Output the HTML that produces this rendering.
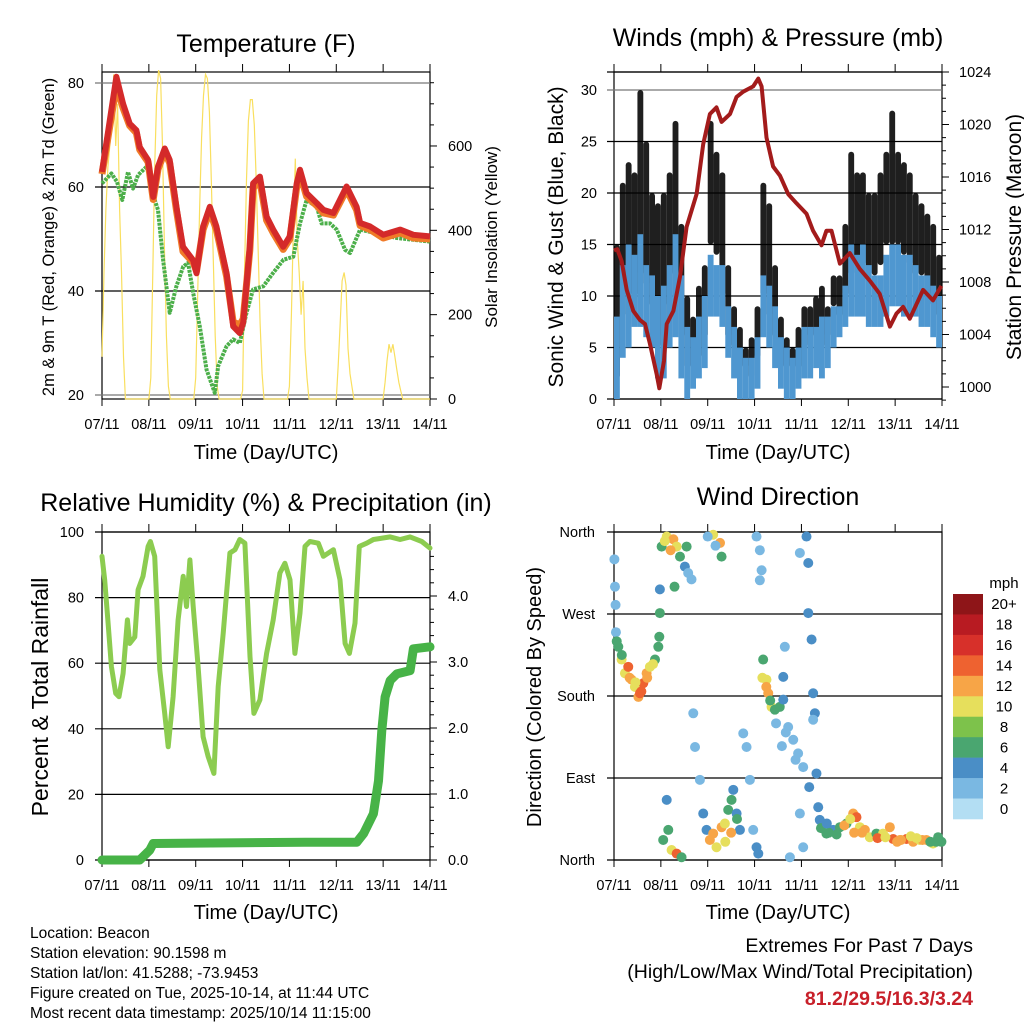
<!DOCTYPE html>
<html><head><meta charset="utf-8"><style>
html,body{margin:0;padding:0;background:#fff}
svg{display:block;font-family:"Liberation Sans",Arial,sans-serif}
</style></head><body>
<svg id="s" width="1024" height="1024" viewBox="0 0 1024 1024" xmlns="http://www.w3.org/2000/svg">
<rect width="1024" height="1024" fill="#fff"/>
<text x="266" y="52" font-size="25" text-anchor="middle">Temperature (F)</text>
<text x="778" y="46" font-size="25" text-anchor="middle">Winds (mph) &amp; Pressure (mb)</text>
<text x="266" y="511" font-size="25" text-anchor="middle">Relative Humidity (%) &amp; Precipitation (in)</text>
<text x="778" y="505" font-size="25" text-anchor="middle">Wind Direction</text>
<text x="266" y="459" font-size="20" text-anchor="middle">Time (Day/UTC)</text>
<text x="778" y="459" font-size="20" text-anchor="middle">Time (Day/UTC)</text>
<text x="266" y="919" font-size="20" text-anchor="middle">Time (Day/UTC)</text>
<text x="778" y="919" font-size="20" text-anchor="middle">Time (Day/UTC)</text>
<text transform="translate(54,237) rotate(-90)" font-size="16.5" text-anchor="middle">2m &amp; 9m T (Red, Orange) &amp; 2m Td (Green)</text>
<text transform="translate(497,237) rotate(-90)" font-size="17" text-anchor="middle">Solar Insolation (Yellow)</text>
<text transform="translate(563,237) rotate(-90)" font-size="21" text-anchor="middle">Sonic Wind &amp; Gust (Blue, Black)</text>
<text transform="translate(1021,237) rotate(-90)" font-size="21" text-anchor="middle">Station Pressure (Maroon)</text>
<text transform="translate(48,697) rotate(-90)" font-size="23" text-anchor="middle">Percent &amp; Total Rainfall</text>
<text transform="translate(541,697) rotate(-90)" font-size="20" text-anchor="middle">Direction (Colored By Speed)</text>
<g font-size="15.5">
<text x="30" y="938">Location: Beacon</text>
<text x="30" y="958">Station elevation: 90.1598 m</text>
<text x="30" y="978">Station lat/lon: 41.5288; -73.9453</text>
<text x="30" y="998">Figure created on Tue, 2025-10-14, at 11:44 UTC</text>
<text x="30" y="1018">Most recent data timestamp: 2025/10/14 11:15:00</text>
</g>
<g font-size="19.5" text-anchor="end">
<text x="973" y="952">Extremes For Past 7 Days</text>
<text x="973" y="978">(High/Low/Max Wind/Total Precipitation)</text>
<text x="973" y="1005" fill="#c8202a" font-weight="bold">81.2/29.5/16.3/3.24</text>
</g>
<text x="1004" y="588" font-size="15" text-anchor="middle">mph</text>
</svg>
<script>
// ---------- data ----------
const dayLabels=["07/11","08/11","09/11","10/11","11/11","12/11","13/11","14/11"];
const tempHours=[0,7.4,10.8,14.2,17.6,19.3,23.6,26.2,28.7,32.1,34.7,38.1,41.5,46.7,48.4,51.8,55.2,58.6,63.8,67.2,70.6,72.3,75.7,77.4,80.9,84.3,87.7,92.8,96.2,99.7,101.4,104.8,110,113.4,118.5,125.3,130.4,132.2,137.3,144.1,152.7,159.5,168];
const temp2m=[62.9,81.2,76.0,72.2,70.9,67.7,65.2,58.1,63.9,67.4,65.2,56.2,48.5,45.9,43.4,52.4,56.2,52.4,43.4,33.2,31.9,33.9,48.5,60.7,62.0,54.3,51.8,48.5,50.5,60.7,63.3,58.8,56.9,55.6,55.0,60.1,56.2,53.1,52.4,50.8,51.8,50.8,50.5];
const temp9m=[62.5,79.5,75.2,71.8,70.4,67.2,64.8,57.6,63.4,66.8,64.6,55.6,47.6,45.5,43.8,51.8,55.4,51.8,42.8,34.0,33.5,34.6,47.8,59.8,61.2,53.6,51.2,48.0,50.0,60.0,62.5,58.2,56.4,55.0,54.6,59.5,55.6,52.6,51.8,50.2,51.2,50.2,50.0];
const dewHours=[0,4.8,7.7,10.4,13.3,15.9,18.5,23.6,26.5,28.7,31.3,34.7,38.1,41.6,44.1,46.7,50.1,53.5,57.8,59.5,63.8,67.2,70.6,74.0,77.4,82.6,87.7,92.9,98.0,101.4,104.8,110.0,112.5,116.8,120.2,124.5,127.1,132.2,140.7,151.0,168];
const dewPoint=[60.7,62.6,61.0,57.5,62.9,59.7,62.3,64.2,58.1,55.6,46.0,35.8,40.9,44.7,45.4,39.6,33.2,24.9,20.4,25.6,29.4,30.7,30.0,35.8,40.3,40.9,43.5,46.0,46.6,53.0,57.5,56.2,53.0,53.0,51.8,47.9,47.3,51.8,51.1,50.2,49.5];
const solar=[100,300,450,550,600,650,770,600,700,450,300,100,0,0,0,0,0,0,0,0,0,0,0,0,
0,50,300,550,720,780,760,600,350,150,30,0,0,0,0,0,0,0,0,0,0,0,0,0,
50,250,450,620,720,770,760,680,520,330,150,30,0,0,0,0,0,0,0,0,0,0,0,0,
20,300,520,660,710,710,650,520,350,180,60,0,0,0,0,0,0,0,0,0,0,0,0,0,
30,200,400,570,380,300,200,280,120,50,0,0,0,0,0,0,0,0,0,0,0,0,0,0,
0,80,180,280,300,270,120,60,30,0,0,0,0,0,0,0,0,0,0,0,0,0,0,0,
0,40,90,130,110,130,100,70,40,20,0,0,0,0,0,0,0,0,0,0,0,0,0,0,0];
const presHours=[0,1.7,3.9,6.5,9.9,13.3,15.9,18.4,21.8,23.2,25.6,27,30.4,33.8,37.2,42.3,45.7,49.1,52.5,55.1,59.4,62.8,66.2,71.3,73.9,75.6,78.1,81.5,85,89.2,93.5,98.6,102,106.3,108.8,111.4,115.7,120.8,125.9,131,136.1,141.3,144.7,148.1,151.5,158.3,163.4,167.7];
const pressure=[1010.4,1010.5,1009.6,1007.4,1005.8,1005.1,1004.8,1003.3,1001.0,999.9,1002.0,1004.8,1005.8,1008.4,1012.2,1014.7,1018.5,1020.8,1021.3,1020.2,1020.8,1022.1,1022.5,1022.9,1023.5,1022.9,1019.0,1016.8,1016.1,1014.7,1014.0,1013.2,1011.9,1010.8,1011.9,1011.9,1009.4,1010.2,1009.0,1008.1,1007.1,1004.6,1005.6,1006.1,1005.2,1007.4,1006.6,1007.7];
const gustLo=[2,8,10,10,12,11,9,5,6,9,12,6,3,3,4,6,15,14,10,6,5,3,3,2,4,10,8,6,3,3,3,3,5,6,6,5,6,9,8,10,12,13,13,12,12,13,15,15,15,14,13,12,12,10,9,8];
const gustHi=[15,21,23,22,30,25,20,19,20,22,27,17,10,8,11,13,27,24,22,13,9,7,5,6,9,21,19,13,8,6,5,7,9,9,10,11,9,12,12,17,24,22,22,20,20,22,24,28,24,23,22,20,19,18,17,14];
const windLo=[0,4,5,7,7,6,5,2,2,5,6,2,0,1,2,3,8,8,7,4,2,0,0,0,1,6,5,3,1,0,0,1,2,2,3,2,3,5,6,7,8,8,8,7,7,7,8,9,9,8,8,8,7,7,6,5];
const windHi=[8,13,15,14,16,13,12,10,11,13,16,12,7,6,8,10,14,13,13,9,7,5,4,4,6,12,11,9,6,5,4,5,7,7,7,8,8,9,9,11,15,14,15,13,12,12,14,15,15,14,14,13,12,12,11,10];
const rhHours=[0,1.4,3.1,4.8,7,8.7,10.8,13,14.2,16.8,18.5,21,23.6,24.8,27,29.6,32.1,33.9,36.4,39,41.6,43.3,45,46.7,49.2,51.8,54.4,57.3,59.5,62.1,65.5,68.1,70.6,73.2,75.8,77.8,80.9,84.3,87.7,91.1,93.7,96.3,98.8,101.4,104,106.5,110.8,113.4,118.5,121.9,124.5,126.7,129.6,131.8,135.6,139,147.6,152.7,157.8,163.8,168];
const rh=[92.6,85.4,72.2,59,50.8,49.8,56.9,73.2,66,68,82.4,86.5,95.6,97.1,92.6,58,44.7,34.5,49.8,73.2,86.5,77.3,91.5,77.3,59,37.6,31.5,26.4,52.9,69.1,93.6,94.6,97.7,96.6,62,44.7,48.8,63,73.2,87.5,90.5,85.4,63,75.3,95.6,97.1,96.6,92.6,94.6,85.4,66,63,72.2,95.6,96.6,97.7,98.5,97.7,98.5,97.1,95.1];
const rainHours=[0,19.3,24.5,26.2,104,130.5,134,139,141.6,143.3,145,147.6,151,157.8,159.5,168];
const rainTotal=[0,0,0.15,0.25,0.27,0.27,0.4,0.7,1.2,1.96,2.47,2.72,2.82,2.87,3.2,3.23];
const dirHours=[0.2,0.5,0.8,1.0,1.4,2.2,3.9,5.6,7.3,9.0,10.7,12.5,13.3,15.0,16.7,18.4,21.0,22.7,23.2,23.5,23.5,
24.4,27.0,30.4,32.1,33.8,36.3,38.0,39.7,37.2,25.2,27.8,29.5,32.1,34.6,27.0,
50.8,54.3,55.1,40.6,41.5,44.0,45.7,47.4,49.1,50.8,52.5,55.1,56.8,58.5,60.2,61.1,62.8,64.5,66.2,67.9,69.6,71.3,73.0,73.9,
73.0,74.7,75.6,74.7,76.4,78.1,79.0,80.7,82.4,84.9,86.7,86.7,87.5,89.2,91.8,94.3,96.9,95.2,96.9,90.1,
98.6,99.5,99.5,101.2,102.0,102.9,103.7,104.6,102.0,95.2,
105.4,108.8,112.3,115.7,119.1,122.5,124.2,125.9,128.5,131.0,134.4,137.8,141.3,143.0,146.4,149.8,153.2,156.6,160.0,163.4,166.0,167.7,110,118,127,135,145,152,158,165,
4,8,11,14,17,20,26,29,31,48,52,57,60,63,76,78,80,83,86,88,93,100,106,109,114,121,123,139,147,155,162];
const dirDeg=[330,300,280,250,240,234,220,205,212,198,190,179,183,194,205,212,220,234,245,271,297,
344,355,352,344,333,322,315,308,344,22,33,11,7,3,66,
357,348,333,161,124,88,51,33,22,29,14,36,40,55,66,77,51,33,139,124,88,33,14,7,
355,340,318,307,220,198,183,168,165,168,176,201,234,146,132,117,102,51,14,3,
355,326,271,242,183,161,95,58,154,337,
44,29,33,36,40,51,47,36,33,25,29,29,36,23,22,23,20,22,22,18,25,20,30,38,30,24,20,26,22,20,
225,200,195,185,200,215,350,340,300,355,345,20,30,45,200,190,175,150,125,140,110,80,35,40,28,45,30,25,22,24,20];
const dirSpeed=[2,2,2,2,7,7,10,10,15,12,10,12,15,15,12,10,7,7,7,7,4,
7,10,12,10,7,4,2,2,7,7,7,10,15,7,4,
10,12,7,2,2,2,4,4,12,12,10,12,10,7,7,4,4,4,2,2,2,2,4,4,
2,2,2,2,7,10,12,10,7,7,4,4,2,2,2,2,2,2,2,2,
4,4,4,4,4,4,4,4,2,2,
4,7,4,7,7,12,15,10,12,10,7,10,12,15,12,15,12,10,12,10,7,7,7,12,12,15,12,10,12,7,
7,12,10,14,12,10,10,12,7,2,2,10,12,7,10,12,7,2,2,2,2,4,7,4,7,10,12,10,12,10,7];
const cbColors=["#8e1518","#b81b22","#d7302a","#ee6230","#f7a547","#e6df5c","#7dc24b","#4aa670","#4a8ec6","#7ab8e2","#b3def3"];
const cbLabels=["20+","18","16","14","12","10","8","6","4","2","0"];
const tempTicks=[20,40,60,80], solarTicks=[0,200,400,600];
const windTicks=[0,5,10,15,20,25,30], presTicks=[1000,1004,1008,1012,1016,1020,1024];
const rhTicks=[0,20,40,60,80,100], rainTicks=["0.0","1.0","2.0","3.0","4.0"];
const dirTicks=["North","East","South","West","North"];

// ---------- helpers ----------
const NS="http://www.w3.org/2000/svg", svg=document.getElementById("s");
function mk(tag,attrs,parent){const e=document.createElementNS(NS,tag);for(const k in attrs)e.setAttribute(k,attrs[k]);(parent||svg).appendChild(e);return e;}
function sx(p,h){return p.x0+h/168*(p.x1-p.x0);}
function pathOf(xs,ys,fx,fy){let d="";for(let i=0;i<xs.length;i++)d+=(i?"L":"M")+fx(xs[i]).toFixed(1)+","+fy(ys[i]).toFixed(1);return d;}
function speedColor(v){const i=Math.min(10,Math.max(0,10-Math.floor(v/2)));return cbColors[i];}

const P1={x0:102,x1:430,y0:72,y1:399}, P2={x0:614,x1:942,y0:72,y1:399}, P3={x0:102,x1:430,y0:532,y1:860}, P4={x0:614,x1:942,y0:532,y1:860};
const yT=v=>395-(v-20)*5.2, yS=v=>399-v*0.4217, yW=v=>399-v*10.3, yP=v=>387-(v-1000)*13.125;
const yR=v=>860-v*3.28, yRain=v=>860-v*66, yD=v=>860-v*328/360;

function frame(p,name){
  const g=mk("g",{});
  
  
  for(let d=0;d<dayLabels.length;d++){
    const x=sx(p,d*24);
    const t=mk("line",{x1:x,x2:x,y1:p.y0-8,y2:p.y0,stroke:"#000","stroke-width":1},g);
    
    
    const b=mk("line",{x1:x,x2:x,y1:p.y1,y2:p.y1+7,stroke:"#000","stroke-width":1},g);
    
    
    const l=mk("text",{x:x,y:p.y1+30,"font-size":14.5,"text-anchor":"middle"},g);
    l.textContent=dayLabels[d];
    
    
  }
  const r=mk("rect",{x:p.x0,y:p.y0,width:p.x1-p.x0,height:p.y1-p.y0,fill:"none",stroke:"#000","stroke-width":1.2},g);
  
  
  return g;
}
function hgrid(p,y,label,side,name,gridColor){
  const ln=mk("line",{x1:side==="L"?p.x0-7:p.x0,x2:p.x1+(side==="L"?0:6),y1:y,y2:y,stroke:gridColor||"#000","stroke-width":1.2});
  
  
}
function ylabel(x,y,txt,anchor,name,fs){
  const t=mk("text",{x:x,y:y+5,"font-size":fs||14.5,"text-anchor":anchor});
  t.textContent=txt;
  
  
}
function rtick(p,y,len){
  const t=mk("line",{x1:p.x1,x2:p.x1+len,y1:y,y2:y,stroke:"#000","stroke-width":1});
  
  
}

// ---------- panel 1: temperature ----------
frame(P1,"temperature");
tempTicks.forEach(v=>{hgrid(P1,yT(v),v,"L","temp",v===20||v===80?"#777":"#000");ylabel(84,yT(v),String(v),"end","temp-tick-label");});
for(let v=0;v<=750;v+=50){rtick(P1,yS(v),v%200===0?7:4);}
solarTicks.forEach(v=>ylabel(448,yS(v),String(v),"start","solar-tick-label"));
{
  const s=mk("path",{d:pathOf(solar.map((_,i)=>i),solar,h=>sx(P1,h),yS),fill:"none",stroke:"#f9df5f","stroke-width":1.2});
  
  
  const d=mk("path",{d:pathOf(dewHours,dewPoint,h=>sx(P1,h),yT),fill:"none",stroke:"#4caf4a","stroke-width":4,"stroke-dasharray":"3,1","stroke-linejoin":"round"});
  
  
  const o=mk("path",{d:pathOf(tempHours,temp9m,h=>sx(P1,h),yT),fill:"none",stroke:"#f07a28","stroke-width":7,"stroke-linejoin":"round"});
  
  
  const r=mk("path",{d:pathOf(tempHours,temp2m,h=>sx(P1,h),yT),fill:"none",stroke:"#d42a2a","stroke-width":6,"stroke-linejoin":"round"});
  
  
}

// ---------- panel 2: winds ----------
frame(P2,"winds");
windTicks.forEach(v=>{hgrid(P2,yW(v),v,"L","wind",v===30?"#777":"#000");ylabel(597,yW(v),String(v),"end","wind-tick-label");});
hgrid(P2,P2.y0,"","L","wind-top");
for(let v=999;v<=1024;v++){rtick(P2,yP(v),v%4===0?7:4);}
presTicks.forEach(v=>ylabel(959,yP(v),String(v),"start","pressure-tick-label"));
for(let i=0;i<gustLo.length;i++){
  const x=sx(P2,i*3), w=sx(P2,3)-sx(P2,0);
  const g=mk("rect",{x:x,y:yW(gustHi[i]),width:w,height:yW(gustLo[i])-yW(gustHi[i]),fill:"#000",rx:3,opacity:0.88});
  
  
}
for(let i=0;i<windLo.length;i++){
  const x=sx(P2,i*3), w=sx(P2,3)-sx(P2,0);
  const b=mk("rect",{x:x,y:yW(windHi[i]),width:w,height:yW(windLo[i])-yW(windHi[i]),fill:"#4f97d0"});
  
  
}
{
  const p=mk("path",{d:pathOf(presHours,pressure,h=>sx(P2,h),yP),fill:"none",stroke:"#a31b1b","stroke-width":4,"stroke-linejoin":"round"});
  
  
}

// ---------- panel 3: humidity ----------
frame(P3,"humidity");
rhTicks.forEach(v=>{hgrid(P3,yR(v),v,"L","rh");ylabel(84,yR(v),String(v),"end","rh-tick-label");});
for(let v=0;v<=4.7;v+=0.2){rtick(P3,yRain(v),Math.round(v*10)%10===0?7:4);}
rainTicks.forEach(v=>ylabel(448,yRain(parseFloat(v)),v,"start","rain-tick-label"));
{
  const r=mk("path",{d:pathOf(rhHours,rh,h=>sx(P3,h),yR),fill:"none",stroke:"#8ccc50","stroke-width":5,"stroke-linejoin":"round","stroke-linecap":"round"});
  
  
  const p=mk("path",{d:pathOf(rainHours,rainTotal,h=>sx(P3,h),yRain),fill:"none",stroke:"#47b347","stroke-width":9,"stroke-linejoin":"round","stroke-linecap":"round"});
  
  
}

// ---------- panel 4: wind direction ----------
frame(P4,"direction");
dirTicks.forEach((t,i)=>{hgrid(P4,yD(i*90),t,"L","dir");ylabel(595,yD(i*90),t,"end","direction-tick-label");});
for(let i=0;i<dirHours.length;i++){
  const c=mk("circle",{cx:sx(P4,dirHours[i]),cy:yD(dirDeg[i]),r:5,fill:speedColor(dirSpeed[i])});
  
  
}
const cbH=225/cbColors.length;
cbColors.forEach((c,i)=>{
  const r=mk("rect",{x:953,y:594+i*cbH,width:30,height:cbH+0.3,fill:c});
  
  
  const t=mk("text",{x:1004,y:594+(i+0.5)*cbH+5,"font-size":15,"text-anchor":"middle"});
  t.textContent=cbLabels[i];
  
  
});
</script>
</body></html>
